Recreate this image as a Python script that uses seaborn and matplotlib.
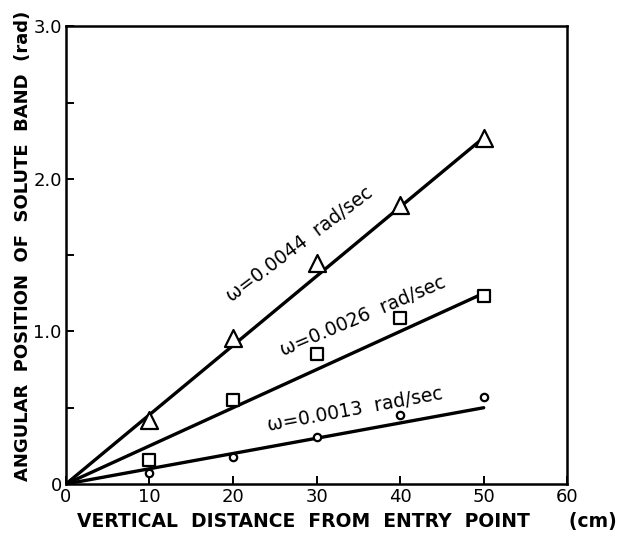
import matplotlib
matplotlib.use("Agg")
import matplotlib.pyplot as plt
import seaborn as sns
import pandas as pd

# ---- data ----
distance_cm = [10, 20, 30, 40, 50]
theta_0044 = [0.42, 0.96, 1.45, 1.83, 2.27]
theta_0026 = [0.16, 0.55, 0.85, 1.09, 1.23]
theta_0013 = [0.07, 0.18, 0.31, 0.45, 0.57]

fit_x = [0, 50]
fit_0044 = [0.0, 2.27]
fit_0026 = [0.0, 1.25]
fit_0013 = [0.0, 0.50]

series_labels = ["ω=0.0044  rad/sec", "ω=0.0026  rad/sec", "ω=0.0013  rad/sec"]
label_x = [28.0, 35.6, 34.6]
label_y = [1.57, 1.10, 0.49]
label_rot = [37, 23, 10.4]

x_ticks = [0, 10, 20, 30, 40, 50, 60]
y_ticks = [0, 0.5, 1.0, 1.5, 2.0, 2.5, 3.0]
y_ticklabels = ["0", "", "1.0", "", "2.0", "", "3.0"]

pts = pd.DataFrame({
    "x": distance_cm * 3,
    "y": theta_0044 + theta_0026 + theta_0013,
    "s": ["a"] * 5 + ["b"] * 5 + ["c"] * 5,
})
fits = pd.DataFrame({
    "x": fit_x * 3,
    "y": fit_0044 + fit_0026 + fit_0013,
    "s": ["a"] * 2 + ["b"] * 2 + ["c"] * 2,
})

sns.set_style("ticks")
plt.rcParams["font.family"] = ["DejaVu Sans"]
plt.rcParams["text.color"] = "black"
plt.rcParams["axes.labelcolor"] = "black"
plt.rcParams["xtick.color"] = "black"
plt.rcParams["ytick.color"] = "black"

fig = plt.figure(figsize=(6.22, 5.35), dpi=100)
ax = fig.add_axes([0.106, 0.0953, 0.806, 0.8557])

sns.lineplot(data=fits, x="x", y="y", units="s", estimator=None,
             color="black", linewidth=2.4, ax=ax, legend=False)

markers = {"a": "^", "b": "s", "c": "o"}
sizes = {"a": 150, "b": 80, "c": 28}
for key in ["a", "b", "c"]:
    sub = pts[pts["s"] == key]
    sns.scatterplot(data=sub, x="x", y="y", marker=markers[key], s=sizes[key],
                    facecolor="white", edgecolor="black", linewidth=1.6,
                    ax=ax, legend=False, zorder=3)

for txt, lx, ly, rot in zip(series_labels, label_x, label_y, label_rot):
    ax.text(lx, ly, txt, rotation=rot, rotation_mode="anchor",
            ha="center", va="center", fontsize=13.5, color="black")

ax.set_xlim(0, 60)
ax.set_ylim(0, 3.0)
ax.set_xticks(x_ticks)
ax.set_xticklabels([str(v) for v in x_ticks])
ax.set_yticks(y_ticks)
ax.set_yticklabels(y_ticklabels)
ax.tick_params(direction="in", length=6, width=1.4, labelsize=13, pad=3,
               colors="black")
for sp in ax.spines.values():
    sp.set_linewidth(1.8)
    sp.set_color("black")

ax.set_xlabel("VERTICAL  DISTANCE  FROM  ENTRY  POINT      (cm)",
              fontsize=13.5, fontweight="bold", labelpad=4, x=0.56,
              color="black")
ax.set_ylabel("ANGULAR  POSITION  OF  SOLUTE  BAND  (rad)",
              fontsize=13, fontweight="bold", labelpad=1, y=0.52,
              color="black")

fig.savefig("out.png", dpi=100)
